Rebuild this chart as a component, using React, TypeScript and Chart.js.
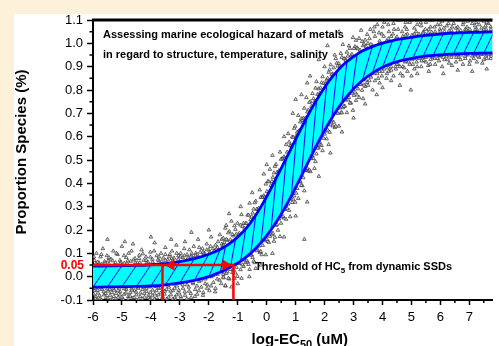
import React, { useEffect, useRef } from 'react';
import { Chart, registerables } from 'chart.js';

Chart.register(...registerables);

// ---------- data ----------
const X_MIN = -6;
const X_MAX = 7.8;
const Y_MIN = -0.1;
const Y_MAX = 1.1;
const X_TICKS = [-6, -5, -4, -3, -2, -1, 0, 1, 2, 3, 4, 5, 6, 7];
const Y_TICKS = [-0.1, 0, 0.1, 0.2, 0.3, 0.4, 0.5, 0.6, 0.7, 0.8, 0.9, 1.0, 1.1];

const CURVE_X = [
  -6, -5.5, -5, -4.5, -4, -3.5, -3, -2.5, -2,
  -1.6, -1.425, -1.25, -1.075, -0.9, -0.725, -0.55, -0.375, -0.2, -0.025, 0.15, 0.325, 0.5, 0.675, 0.85,
  1.025, 1.2, 1.375, 1.55, 1.725, 1.9, 2.075, 2.25, 2.425, 2.6, 2.775, 2.95, 3.125, 3.3,
  3.65, 4.0, 4.35, 4.7, 5.05, 5.4, 5.75, 6.1, 6.45, 6.8, 7.15, 7.5, 7.85,
];
const UPPER = [
  0.045, 0.046, 0.047, 0.048, 0.051, 0.056, 0.064, 0.077, 0.096,
  0.118, 0.13, 0.145, 0.162, 0.182, 0.205, 0.232, 0.264, 0.299, 0.338, 0.378, 0.422, 0.464, 0.507, 0.551,
  0.595, 0.638, 0.68, 0.72, 0.757, 0.792, 0.825, 0.854, 0.88, 0.903, 0.922, 0.939, 0.954, 0.967,
  0.986, 1.001, 1.012, 1.02, 1.027, 1.033, 1.037, 1.041, 1.044, 1.046, 1.047, 1.048, 1.049,
];
const LOWER = [
  -0.045, -0.044, -0.043, -0.042, -0.04, -0.035, -0.027, -0.016, 0.0,
  0.02, 0.03, 0.041, 0.053, 0.067, 0.083, 0.101, 0.122, 0.146, 0.172, 0.201, 0.233, 0.268, 0.305, 0.346,
  0.389, 0.432, 0.476, 0.52, 0.563, 0.604, 0.643, 0.68, 0.714, 0.745, 0.773, 0.798, 0.82, 0.84,
  0.872, 0.897, 0.915, 0.928, 0.937, 0.944, 0.948, 0.952, 0.954, 0.956, 0.957, 0.958, 0.959,
];
// hatch strokes start on the lower curve at these x and end on the next upper-curve sample
const HATCH_FROM_X = [
  -6, -5.5, -5, -4.5, -4, -3.5, -3, -2.5, -2, -1.6, -1.25, -0.9, -0.55, -0.2, 0.15, 0.5, 0.85, 1.2, 1.55,
  1.9, 2.25, 2.6, 2.95, 3.3, 3.65, 4.0, 4.35, 4.7, 5.05, 5.4, 5.75, 6.1, 6.45, 6.8, 7.15, 7.5,
];

const HC5_LEVEL = 0.05;
const HC5_LEFT_X = -3.6;
const HC5_RIGHT_X = -1.15;
const ARROW_X = [-3.3, -1.42];

const SCATTER_LOW = [
  [-5.95, 0.07], [-5.88, 0.1], [-5.8, 0.06], [-5.74, 0.085], [-5.66, 0.12], [-5.6, 0.065], [-5.52, 0.09],
  [-5.45, 0.055], [-5.38, 0.075], [-5.3, 0.11], [-5.22, 0.06], [-5.15, 0.095], [-5.07, 0.07], [-5.0, 0.13],
  [-4.92, 0.058], [-4.85, 0.082], [-4.77, 0.1], [-4.7, 0.066], [-4.62, 0.14], [-4.55, 0.078], [-4.47, 0.06],
  [-4.4, 0.092], [-4.32, 0.115], [-4.25, 0.07], [-4.17, 0.085], [-4.1, 0.062], [-4.02, 0.105], [-3.95, 0.075],
  [-3.87, 0.145], [-3.8, 0.09], [-3.72, 0.068], [-3.65, 0.1], [-3.57, 0.08], [-3.5, 0.125], [-3.42, 0.072],
  [-3.35, 0.095], [-3.27, 0.11], [-3.2, 0.08], [-3.12, 0.135], [-3.05, 0.09], [-2.97, 0.1], [-2.9, 0.082],
  [-2.82, 0.15], [-2.75, 0.095], [-2.67, 0.115], [-2.6, 0.09], [-2.52, 0.13], [-2.45, 0.1], [-2.37, 0.16],
  [-2.3, 0.105], [-2.22, 0.12], [-2.15, 0.1], [-2.07, 0.14], [-2.0, 0.115], [-1.92, 0.17], [-1.85, 0.12],
  [-1.77, 0.135], [-1.7, 0.125], [-1.62, 0.18], [-1.55, 0.14],
  [-5.9, 0.055], [-5.7, 0.052], [-5.48, 0.068], [-5.26, 0.05], [-5.04, 0.062], [-4.82, 0.056], [-4.6, 0.072],
  [-4.38, 0.06], [-4.16, 0.07], [-3.94, 0.063], [-3.72, 0.085], [-3.5, 0.07], [-3.28, 0.078], [-3.06, 0.075],
  [-2.84, 0.09], [-2.62, 0.085], [-2.4, 0.095], [-2.18, 0.098], [-1.96, 0.105], [-1.74, 0.118], [-1.52, 0.132],
  [-5.5, 0.16], [-4.9, 0.15], [-4.0, 0.17], [-3.3, 0.16], [-2.6, 0.19], [-2.0, 0.2], [-1.4, 0.22],
  [-5.97, 0.085], [-5.84, 0.062], [-5.71, 0.095], [-5.58, 0.058], [-5.45, 0.082], [-5.32, 0.068],
  [-5.19, 0.1], [-5.06, 0.057], [-4.93, 0.09], [-4.8, 0.068], [-4.67, 0.11], [-4.54, 0.06], [-4.41, 0.078],
  [-4.28, 0.098], [-4.15, 0.058], [-4.02, 0.084], [-3.89, 0.11], [-3.76, 0.072], [-3.63, 0.065], [-3.5, 0.095],
  [-3.37, 0.085], [-3.24, 0.07], [-3.11, 0.1], [-2.98, 0.085], [-2.85, 0.12], [-2.72, 0.08], [-2.59, 0.1],
  [-2.46, 0.09], [-2.33, 0.125], [-2.2, 0.105], [-2.07, 0.115], [-1.94, 0.13], [-1.81, 0.11], [-1.68, 0.15],
  [-1.55, 0.16], [-1.48, 0.135],
  [-5.96, -0.06], [-5.9, -0.085], [-5.83, -0.07], [-5.76, -0.095], [-5.69, -0.055], [-5.62, -0.078],
  [-5.55, -0.09], [-5.48, -0.062], [-5.41, -0.08], [-5.34, -0.098], [-5.27, -0.058], [-5.2, -0.072],
  [-5.13, -0.088], [-5.06, -0.065], [-4.99, -0.095], [-4.92, -0.075], [-4.85, -0.055], [-4.78, -0.085],
  [-4.71, -0.068], [-4.64, -0.092], [-4.57, -0.06], [-4.5, -0.078], [-4.43, -0.098], [-4.36, -0.07],
  [-4.29, -0.055], [-4.22, -0.088], [-4.15, -0.064], [-4.08, -0.08], [-4.01, -0.095], [-3.94, -0.058],
  [-3.87, -0.074], [-3.8, -0.09], [-3.73, -0.05], [-3.66, -0.07], [-3.59, -0.085], [-3.52, -0.062],
  [-3.45, -0.096], [-3.38, -0.045], [-3.31, -0.078], [-3.24, -0.06], [-3.17, -0.088], [-3.1, -0.04],
  [-3.03, -0.07], [-2.96, -0.094], [-2.89, -0.05], [-2.82, -0.08], [-2.75, -0.035], [-2.68, -0.062],
  [-2.61, -0.09], [-2.54, -0.03], [-2.47, -0.055], [-2.4, -0.075], [-2.33, -0.02], [-2.26, -0.045],
  [-2.19, -0.068], [-2.12, -0.01], [-2.05, -0.035], [-1.98, -0.06], [-1.91, 0.0], [-1.84, -0.025],
  [-1.77, -0.05], [-1.7, 0.01], [-1.63, -0.015], [-1.56, 0.02], [-1.49, -0.005], [-1.42, -0.04],
  [-5.93, -0.05], [-5.72, -0.048], [-5.51, -0.052], [-5.3, -0.05], [-5.09, -0.049], [-4.88, -0.047],
  [-4.67, -0.05], [-4.46, -0.046], [-4.25, -0.045], [-4.04, -0.044], [-3.83, -0.042], [-3.62, -0.04],
  [-3.41, -0.036], [-3.2, -0.032], [-2.99, -0.028], [-2.78, -0.022], [-2.57, -0.016], [-2.36, -0.008],
  [-2.15, 0.0], [-1.94, 0.01],
  [-5.85, -0.1], [-5.4, -0.1], [-4.95, -0.099], [-4.5, -0.1], [-4.05, -0.099], [-3.6, -0.1], [-3.15, -0.099],
  [-2.7, -0.1],
  [-5.98, -0.075], [-5.91, -0.095], [-5.84, -0.058], [-5.77, -0.082], [-5.7, -0.1], [-5.63, -0.065],
  [-5.56, -0.072], [-5.49, -0.092], [-5.42, -0.055], [-5.35, -0.068], [-5.28, -0.085], [-5.21, -0.095],
  [-5.14, -0.06], [-5.07, -0.078], [-5.0, -0.088], [-4.93, -0.052], [-4.86, -0.07], [-4.79, -0.097],
  [-4.72, -0.083], [-4.65, -0.058], [-4.58, -0.09], [-4.51, -0.066], [-4.44, -0.05], [-4.37, -0.085],
  [-4.3, -0.095], [-4.23, -0.072], [-4.16, -0.052], [-4.09, -0.09], [-4.02, -0.068], [-3.95, -0.082],
  [-3.88, -0.097], [-3.81, -0.06], [-3.74, -0.078], [-3.67, -0.048], [-3.6, -0.09], [-3.53, -0.075],
  [-3.46, -0.055], [-3.39, -0.088], [-3.32, -0.062], [-3.25, -0.097], [-3.18, -0.05], [-3.11, -0.078],
  [-3.04, -0.058], [-2.97, -0.085], [-2.9, -0.035], [-2.83, -0.065], [-2.76, -0.095], [-2.69, -0.045],
  [-2.62, -0.072], [-2.55, -0.025], [-2.48, -0.085], [-2.41, -0.04], [-2.34, -0.06], [-2.27, -0.015],
  [-2.2, -0.08], [-2.13, -0.03], [-2.06, -0.05], [-1.99, 0.0], [-1.92, -0.04], [-1.85, 0.005],
  [-1.78, -0.065], [-1.71, -0.01], [-1.64, 0.025], [-1.57, -0.03], [-1.5, 0.01],
];

const SCATTER_RISE = [
  // upper / left side of the band
  [-1.5, 0.165], [-1.43, 0.208], [-1.36, 0.156], [-1.29, 0.194], [-1.22, 0.238], [-1.15, 0.175],
  [-1.08, 0.202], [-1.01, 0.229], [-0.94, 0.187], [-0.87, 0.266], [-0.8, 0.229], [-0.73, 0.228],
  [-0.66, 0.264], [-0.59, 0.315], [-0.52, 0.257], [-0.45, 0.29], [-0.38, 0.324], [-0.31, 0.288],
  [-0.24, 0.372], [-0.17, 0.342], [-0.1, 0.347], [-0.03, 0.397], [0.04, 0.408], [0.11, 0.46], [0.18, 0.408],
  [0.25, 0.445], [0.32, 0.481], [0.39, 0.448], [0.46, 0.534], [0.53, 0.506], [0.6, 0.514], [0.67, 0.566],
  [0.74, 0.613], [0.81, 0.561], [0.88, 0.599], [0.95, 0.636], [1.02, 0.604], [1.09, 0.691], [1.16, 0.663],
  [1.23, 0.67], [1.3, 0.722], [1.37, 0.768], [1.44, 0.714], [1.51, 0.75], [1.58, 0.785], [1.65, 0.75],
  [1.72, 0.836], [1.79, 0.805], [1.86, 0.809], [1.93, 0.857], [2.0, 0.9], [2.07, 0.843], [2.14, 0.876],
  [2.21, 0.908], [2.28, 0.869], [2.35, 0.95], [2.42, 0.915], [2.49, 0.914], [2.56, 0.957], [2.63, 0.995],
  [2.7, 0.934], [2.77, 0.962], [2.84, 0.989], [2.91, 0.947], [2.98, 1.025], [3.05, 0.986], [3.12, 0.981],
  [3.19, 1.021], [3.26, 1.056], [3.33, 0.99], [3.4, 1.014], [3.47, 1.038],
  [-1.465, 0.147], [-1.395, 0.16], [-1.325, 0.188], [-1.255, 0.158], [-1.185, 0.181], [-1.115, 0.218],
  [-1.045, 0.183], [-0.975, 0.18], [-0.905, 0.221], [-0.835, 0.215], [-0.765, 0.208], [-0.695, 0.228],
  [-0.625, 0.264], [-0.555, 0.243], [-0.485, 0.273], [-0.415, 0.317], [-0.345, 0.289], [-0.275, 0.293],
  [-0.205, 0.34], [-0.135, 0.34], [-0.065, 0.34], [0.005, 0.365], [0.075, 0.407], [0.145, 0.391],
  [0.215, 0.426], [0.285, 0.473], [0.355, 0.447], [0.425, 0.454], [0.495, 0.503], [0.565, 0.505],
  [0.635, 0.507], [0.705, 0.534], [0.775, 0.577], [0.845, 0.562], [0.915, 0.597], [0.985, 0.645],
  [1.055, 0.62], [1.125, 0.627], [1.195, 0.677], [1.265, 0.679], [1.335, 0.68], [1.405, 0.706],
  [1.475, 0.747], [1.545, 0.73], [1.615, 0.763], [1.685, 0.808], [1.755, 0.781], [1.825, 0.785],
  [1.895, 0.831], [1.965, 0.829], [2.035, 0.827], [2.105, 0.85], [2.175, 0.887], [2.245, 0.866],
  [2.315, 0.895], [2.385, 0.935], [2.455, 0.903], [2.525, 0.9], [2.595, 0.94], [2.665, 0.934],
  [2.735, 0.927], [2.805, 0.945], [2.875, 0.978], [2.945, 0.953], [3.015, 0.978], [3.085, 1.013],
  [3.155, 0.976], [3.225, 0.971], [3.295, 1.008], [3.365, 0.997], [3.435, 0.986],
  [-1.3, 0.27], [-0.9, 0.3], [-0.5, 0.36], [-0.1, 0.44], [0.2, 0.52], [0.6, 0.6], [0.9, 0.7], [1.2, 0.78],
  [1.5, 0.86], [1.8, 0.93], [2.1, 0.99], [2.5, 1.05], [0.0, 0.48], [1.0, 0.76], [1.4, 0.83],
  // lower / right side of the band
  [-1.5, -0.002], [-1.43, -0.038], [-1.36, 0.021], [-1.29, -0.01], [-1.22, -0.044], [-1.15, 0.03],
  [-1.08, 0.016], [-1.01, 0.001], [-0.94, 0.057], [-0.87, -0.007], [-0.8, 0.044], [-0.73, 0.06],
  [-0.66, 0.063], [-0.59, 0.031], [-0.52, 0.093], [-0.45, 0.066], [-0.38, 0.035], [-0.31, 0.114],
  [-0.24, 0.103], [-0.17, 0.094], [-0.1, 0.154], [-0.03, 0.094], [0.04, 0.151], [0.11, 0.173], [0.18, 0.18],
  [0.25, 0.152], [0.32, 0.22], [0.39, 0.199], [0.46, 0.172], [0.53, 0.256], [0.6, 0.251], [0.67, 0.246],
  [0.74, 0.311], [0.81, 0.257], [0.88, 0.318], [0.95, 0.346], [1.02, 0.358], [1.09, 0.335], [1.16, 0.408],
  [1.23, 0.39], [1.3, 0.368], [1.37, 0.455], [1.44, 0.453], [1.51, 0.45], [1.58, 0.517], [1.65, 0.464],
  [1.72, 0.526], [1.79, 0.552], [1.86, 0.564], [1.93, 0.54], [2.0, 0.611], [2.07, 0.591], [2.14, 0.566],
  [2.21, 0.651], [2.28, 0.646], [2.35, 0.639], [2.42, 0.702], [2.49, 0.645], [2.56, 0.702], [2.63, 0.724],
  [2.7, 0.731], [2.77, 0.703], [2.84, 0.768], [2.91, 0.744], [2.98, 0.713], [3.05, 0.791], [3.12, 0.779],
  [3.19, 0.768], [3.26, 0.826], [3.33, 0.763], [3.4, 0.815], [3.47, 0.832],
  [-1.465, 0.02], [-1.395, 0.014], [-1.325, -0.007], [-1.255, 0.031], [-1.185, 0.018], [-1.115, -0.007],
  [-1.045, 0.04], [-0.975, 0.056], [-0.905, 0.03], [-0.835, 0.051], [-0.765, 0.072], [-0.695, 0.069],
  [-0.625, 0.052], [-0.555, 0.093], [-0.485, 0.082], [-0.415, 0.06], [-0.345, 0.111], [-0.275, 0.131],
  [-0.205, 0.108], [-0.135, 0.134], [-0.065, 0.159], [0.005, 0.16], [0.075, 0.147], [0.145, 0.192],
  [0.215, 0.186], [0.285, 0.169], [0.355, 0.224], [0.425, 0.247], [0.495, 0.229], [0.565, 0.258],
  [0.635, 0.288], [0.705, 0.293], [0.775, 0.284], [0.845, 0.333], [0.915, 0.332], [0.985, 0.319],
  [1.055, 0.378], [1.125, 0.406], [1.195, 0.391], [1.265, 0.424], [1.335, 0.457], [1.405, 0.464],
  [1.475, 0.457], [1.545, 0.507], [1.615, 0.506], [1.685, 0.493], [1.755, 0.551], [1.825, 0.577],
  [1.895, 0.562], [1.965, 0.593], [2.035, 0.624], [2.105, 0.629], [2.175, 0.619], [2.245, 0.667],
  [2.315, 0.662], [2.385, 0.645], [2.455, 0.7], [2.525, 0.723], [2.595, 0.703], [2.665, 0.73],
  [2.735, 0.757], [2.805, 0.758], [2.875, 0.744], [2.945, 0.786], [3.015, 0.777], [3.085, 0.755],
  [3.155, 0.805], [3.225, 0.824], [3.295, 0.799], [3.365, 0.821], [3.435, 0.843],
  [-1.0, -0.03], [-0.6, 0.0], [-0.2, 0.05], [0.2, 0.1], [0.6, 0.17], [1.0, 0.26], [1.3, 0.16], [1.4, 0.32],
  [1.8, 0.43], [2.2, 0.53], [2.6, 0.62], [3.0, 0.68], [3.4, 0.74],
];

const SCATTER_HIGH = [
  [3.5, 1.0], [3.58, 1.06], [3.66, 0.99], [3.74, 1.03], [3.82, 1.08], [3.9, 1.0], [3.98, 1.04], [4.06, 1.09],
  [4.14, 1.01], [4.22, 1.05], [4.3, 1.03], [4.38, 1.085], [4.46, 1.02], [4.54, 1.06], [4.62, 1.1], [4.7, 1.03],
  [4.78, 1.07], [4.86, 1.04], [4.94, 1.09], [5.02, 1.035], [5.1, 1.065], [5.18, 1.1], [5.26, 1.04],
  [5.34, 1.075], [5.42, 1.05], [5.5, 1.09], [5.58, 1.045], [5.66, 1.07], [5.74, 1.1], [5.82, 1.05],
  [5.9, 1.08], [5.98, 1.06], [6.06, 1.095], [6.14, 1.05], [6.22, 1.075], [6.3, 1.1], [6.38, 1.055],
  [6.46, 1.085], [6.54, 1.065], [6.62, 1.1], [6.7, 1.055], [6.78, 1.08], [6.86, 1.06], [6.94, 1.095],
  [7.02, 1.06], [7.1, 1.085], [7.18, 1.1], [7.26, 1.06], [7.34, 1.08], [7.42, 1.065], [7.5, 1.095],
  [7.58, 1.06], [7.66, 1.085], [7.74, 1.07],
  [3.6, 0.995], [3.9, 1.01], [4.2, 1.02], [4.5, 1.028], [4.8, 1.035], [5.1, 1.04], [5.4, 1.045], [5.7, 1.048],
  [6.0, 1.052], [6.3, 1.054], [6.6, 1.056], [6.9, 1.058], [7.2, 1.059], [7.5, 1.06], [7.75, 1.06],
  [3.7, 1.05], [4.0, 1.07], [4.4, 1.06], [4.8, 1.09], [5.2, 1.08], [5.6, 1.06], [6.0, 1.08], [6.4, 1.07],
  [6.8, 1.09], [7.2, 1.075], [7.6, 1.09],
  [3.55, 1.02], [3.72, 1.07], [3.88, 1.045], [4.04, 1.03], [4.2, 1.08], [4.36, 1.04], [4.52, 1.1],
  [4.68, 1.05], [4.84, 1.06], [5.0, 1.1], [5.16, 1.05], [5.32, 1.09], [5.48, 1.06], [5.64, 1.1], [5.8, 1.07],
  [5.96, 1.1], [6.12, 1.065], [6.28, 1.085], [6.44, 1.1], [6.6, 1.07], [6.76, 1.1], [6.92, 1.07], [7.08, 1.1],
  [7.24, 1.09], [7.4, 1.1], [7.56, 1.075], [7.72, 1.1],
  [3.5, 0.82], [3.58, 0.86], [3.66, 0.8], [3.74, 0.84], [3.82, 0.87], [3.9, 0.83], [3.98, 0.86], [4.06, 0.89],
  [4.14, 0.85], [4.22, 0.88], [4.3, 0.9], [4.38, 0.86], [4.46, 0.89], [4.54, 0.91], [4.62, 0.87], [4.7, 0.9],
  [4.78, 0.92], [4.86, 0.88], [4.94, 0.91], [5.02, 0.93], [5.1, 0.89], [5.18, 0.92], [5.26, 0.935],
  [5.34, 0.9], [5.42, 0.925], [5.5, 0.94], [5.58, 0.905], [5.66, 0.93], [5.74, 0.94], [5.82, 0.91],
  [5.9, 0.935], [5.98, 0.945], [6.06, 0.9], [6.14, 0.93], [6.22, 0.945], [6.3, 0.915], [6.38, 0.94],
  [6.46, 0.95], [6.54, 0.92], [6.62, 0.94], [6.7, 0.95], [6.78, 0.91], [6.86, 0.935], [6.94, 0.95],
  [7.02, 0.925], [7.1, 0.945], [7.18, 0.95], [7.26, 0.92], [7.34, 0.94], [7.42, 0.952], [7.5, 0.93],
  [7.58, 0.945], [7.66, 0.953], [7.74, 0.935],
  [3.6, 0.855], [3.9, 0.88], [4.2, 0.895], [4.5, 0.91], [4.8, 0.925], [5.1, 0.935], [5.4, 0.94], [5.7, 0.945],
  [6.0, 0.948], [6.3, 0.95], [6.6, 0.952], [6.9, 0.953], [7.2, 0.953], [7.5, 0.954], [7.75, 0.954],
  [3.8, 0.78], [4.3, 0.84], [4.7, 0.86], [5.2, 0.87], [5.6, 0.88], [6.1, 0.87], [6.6, 0.885], [7.1, 0.88],
  [7.6, 0.89], [4.0, 0.81], [5.0, 0.86], [4.98, 0.8], [4.6, 0.82],
  [3.55, 0.84], [3.7, 0.87], [3.85, 0.85], [4.0, 0.88], [4.15, 0.87], [4.3, 0.885], [4.45, 0.9], [4.6, 0.9],
  [4.75, 0.895], [4.9, 0.92], [5.05, 0.91], [5.2, 0.9], [5.35, 0.925], [5.5, 0.92], [5.65, 0.91], [5.8, 0.935],
  [5.95, 0.925], [6.1, 0.94], [6.25, 0.93], [6.4, 0.905], [6.55, 0.94], [6.7, 0.93], [6.85, 0.945], [7.0, 0.91],
  [7.15, 0.935], [7.3, 0.945], [7.45, 0.915], [7.6, 0.935], [7.75, 0.945],
];

// ---------- styling ----------
const FONT = '"Liberation Sans", Arial, Helvetica, sans-serif';
const CREAM = '#fdf2d9';
const BLUE = '#0000ff';
const CYAN = '#00ffff';
const RED = '#ff0000';

const toPts = (arr: number[][]) => arr.map(([x, y]) => ({ x, y }));

const decorPlugin = {
  id: 'decor',
  beforeDraw(chart: any) {
    const { ctx, width, height } = chart;
    ctx.save();
    ctx.fillStyle = CREAM;
    ctx.fillRect(0, 0, width, height);
    ctx.fillStyle = '#ffffff';
    ctx.fillRect(14, 14, width - 14, height - 14);
    ctx.restore();
  },
  afterDraw(chart: any) {
    const { ctx, chartArea } = chart;
    const xs = chart.scales.x;
    const ys = chart.scales.y;
    ctx.save();
    // top frame line
    ctx.strokeStyle = '#000';
    ctx.lineWidth = 3;
    ctx.beginPath();
    ctx.moveTo(chartArea.left - 1, chartArea.top);
    ctx.lineTo(chartArea.right, chartArea.top);
    ctx.stroke();
    // minor ticks
    ctx.lineWidth = 1.5;
    ctx.beginPath();
    for (let i = 0; i < Y_TICKS.length - 1; i++) {
      const py = ys.getPixelForValue((Y_TICKS[i] + Y_TICKS[i + 1]) / 2);
      ctx.moveTo(chartArea.left - 3.5, py);
      ctx.lineTo(chartArea.left, py);
    }
    for (let i = 0; i < X_TICKS.length; i++) {
      const v = X_TICKS[i] + 0.5;
      if (v > X_MAX) break;
      const px = xs.getPixelForValue(v);
      ctx.moveTo(px, chartArea.bottom);
      ctx.lineTo(px, chartArea.bottom + 3);
    }
    ctx.stroke();

    // red 0.05 label
    ctx.fillStyle = RED;
    ctx.font = `bold 12px ${FONT}`;
    ctx.textAlign = 'right';
    ctx.textBaseline = 'middle';
    ctx.fillText('0.05', chartArea.left - 9, ys.getPixelForValue(HC5_LEVEL) + 0.5);

    // annotation text
    ctx.fillStyle = '#000';
    ctx.textAlign = 'left';
    ctx.textBaseline = 'alphabetic';
    ctx.font = `bold 11px ${FONT}`;
    const ax = chartArea.left + 10;
    ctx.fillText('Assessing marine ecological hazard of metals', ax, chartArea.top + 18);
    ctx.fillText('in regard to structure, temperature, salinity', ax, chartArea.top + 38);

    // threshold label with subscript
    let tx = xs.getPixelForValue(-0.4);
    const ty = ys.getPixelForValue(HC5_LEVEL) + 5;
    const part1 = 'Threshold of HC';
    ctx.fillText(part1, tx, ty);
    tx += ctx.measureText(part1).width;
    ctx.font = `bold 8px ${FONT}`;
    ctx.fillText('5', tx, ty + 3);
    tx += ctx.measureText('5').width;
    ctx.font = `bold 11px ${FONT}`;
    ctx.fillText(' from dynamic SSDs', tx, ty);

    // x title with subscript
    ctx.font = `bold 15px ${FONT}`;
    const t1 = 'log-EC';
    const t3 = ' (uM)';
    const w1 = ctx.measureText(t1).width;
    const w3 = ctx.measureText(t3).width;
    ctx.font = `bold 11px ${FONT}`;
    const w2 = ctx.measureText('50').width;
    const total = w1 + w2 + w3;
    let px = (chartArea.left + chartArea.right) / 2 + 7 - total / 2;
    const py = chartArea.bottom + 44;
    ctx.font = `bold 15px ${FONT}`;
    ctx.fillText(t1, px, py);
    px += w1;
    ctx.font = `bold 11px ${FONT}`;
    ctx.fillText('50', px, py + 4);
    px += w2;
    ctx.font = `bold 15px ${FONT}`;
    ctx.fillText(t3, px, py);

    // y title
    ctx.save();
    ctx.translate(22, 152);
    ctx.rotate(-Math.PI / 2);
    ctx.textAlign = 'center';
    ctx.textBaseline = 'middle';
    ctx.font = `bold 15px ${FONT}`;
    ctx.fillText('Proportion Species (%)', 0, 0);
    ctx.restore();

    ctx.restore();
  },
};

export default function App() {
  const ref = useRef<HTMLCanvasElement>(null);

  useEffect(() => {
    document.body.style.margin = '0';
    const upperPts = CURVE_X.map((x, i) => ({ x, y: UPPER[i] }));
    const lowerPts = CURVE_X.map((x, i) => ({ x, y: LOWER[i] }));
    const hatch: any[] = [];
    HATCH_FROM_X.forEach((hx) => {
      const i = CURVE_X.indexOf(hx);
      if (i < 0 || i >= CURVE_X.length - 1) return;
      hatch.push({ x: CURVE_X[i], y: LOWER[i] });
      hatch.push({ x: CURVE_X[i + 1], y: UPPER[i + 1] });
      hatch.push({ x: CURVE_X[i + 1], y: null });
    });
    const scatter = [...toPts(SCATTER_LOW), ...toPts(SCATTER_RISE), ...toPts(SCATTER_HIGH)];

    const chart = new Chart(ref.current as HTMLCanvasElement, {
      type: 'scatter',
      data: {
        datasets: [
          {
            label: 'observations',
            data: scatter,
            pointStyle: 'triangle',
            pointRadius: 2.1,
            pointBorderWidth: 0.8,
            pointBorderColor: 'rgba(55,55,55,0.9)',
            pointBackgroundColor: 'rgba(220,220,220,0.7)',
            showLine: false,
            order: 10,
          } as any,
          {
            label: 'band',
            data: upperPts,
            showLine: true,
            borderWidth: 0,
            borderColor: 'rgba(0,0,0,0)',
            pointRadius: 0,
            backgroundColor: CYAN,
            fill: { target: 3 },
            cubicInterpolationMode: 'monotone',
            order: 8,
          } as any,
          {
            label: 'hatch',
            data: hatch,
            showLine: true,
            spanGaps: false,
            borderColor: BLUE,
            borderWidth: 1,
            pointRadius: 0,
            order: 7,
          } as any,
          {
            label: 'lower',
            data: lowerPts,
            showLine: true,
            borderColor: BLUE,
            borderWidth: 2.8,
            pointRadius: 0,
            cubicInterpolationMode: 'monotone',
            order: 3,
          } as any,
          {
            label: 'upper',
            data: upperPts,
            showLine: true,
            borderColor: BLUE,
            borderWidth: 2.8,
            pointRadius: 0,
            cubicInterpolationMode: 'monotone',
            order: 3,
          } as any,
          {
            label: 'hc5 right',
            data: [
              { x: X_MIN, y: HC5_LEVEL },
              { x: HC5_RIGHT_X, y: HC5_LEVEL },
              { x: HC5_RIGHT_X, y: Y_MIN },
            ],
            showLine: true,
            borderColor: RED,
            borderWidth: 2.5,
            pointRadius: 0,
            order: 1,
          } as any,
          {
            label: 'hc5 left',
            data: [
              { x: HC5_LEFT_X, y: HC5_LEVEL },
              { x: HC5_LEFT_X, y: Y_MIN },
            ],
            showLine: true,
            borderColor: RED,
            borderWidth: 2.5,
            pointRadius: 0,
            order: 1,
          } as any,
          {
            label: 'arrows',
            data: ARROW_X.map((x) => ({ x, y: HC5_LEVEL })),
            showLine: false,
            pointStyle: 'triangle',
            pointRadius: 5.5,
            pointRotation: [-90, 90],
            pointBackgroundColor: RED,
            pointBorderColor: RED,
            pointBorderWidth: 1,
            order: 0,
          } as any,
        ],
      },
      options: {
        responsive: false,
        animation: false,
        devicePixelRatio: 1,
        layout: { padding: { top: 20, left: 0, right: 0, bottom: 0 } },
        plugins: {
          legend: { display: false },
          tooltip: { enabled: false },
        },
        events: [],
        scales: {
          x: {
            type: 'linear',
            min: X_MIN,
            max: X_MAX,
            afterBuildTicks: (s: any) => {
              s.ticks = X_TICKS.map((v) => ({ value: v }));
            },
            afterFit: (s: any) => {
              s.height = 46;
            },
            grid: {
              drawOnChartArea: false,
              drawTicks: true,
              tickLength: 5,
              tickColor: '#000',
              tickWidth: 1.5,
            },
            border: { display: true, color: '#000', width: 2 },
            ticks: {
              color: '#000',
              font: { family: FONT, size: 13 },
              padding: 5,
              maxRotation: 0,
              autoSkip: false,
              callback: (v: any) => String(v),
            },
          },
          y: {
            type: 'linear',
            min: Y_MIN,
            max: Y_MAX,
            afterBuildTicks: (s: any) => {
              s.ticks = Y_TICKS.map((v) => ({ value: v }));
            },
            afterFit: (s: any) => {
              s.width = 93;
            },
            grid: {
              drawOnChartArea: false,
              drawTicks: true,
              tickLength: 6,
              tickColor: '#000',
              tickWidth: 1.5,
            },
            border: { display: true, color: '#000', width: 2 },
            ticks: {
              color: '#000',
              font: { family: FONT, size: 13 },
              padding: 4,
              autoSkip: false,
              callback: (v: any) => Number(v).toFixed(1),
            },
          },
        },
      } as any,
      plugins: [decorPlugin],
    });
    return () => chart.destroy();
  }, []);

  return (
    <div style={{ width: 499, height: 346, overflow: 'hidden' }}>
      <canvas ref={ref} width={499} height={346} style={{ display: 'block' }} />
    </div>
  );
}
